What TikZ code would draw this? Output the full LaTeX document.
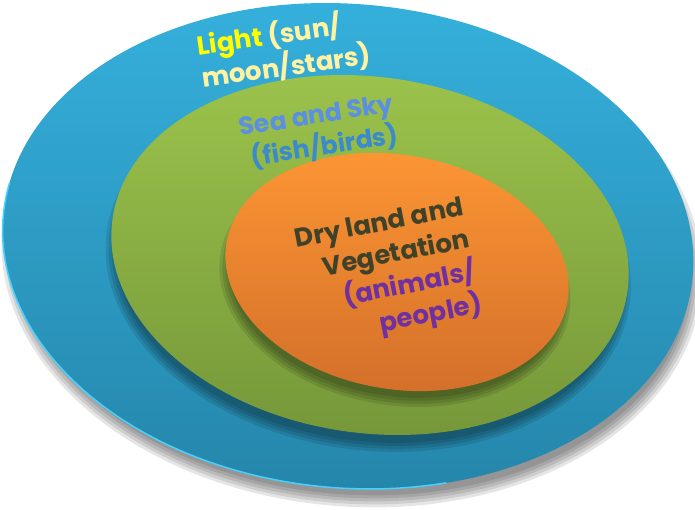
\documentclass[tikz,border=0pt]{standalone}
\usepackage{fontspec}
\setmainfont{Poppins}
\usetikzlibrary{positioning}

\definecolor{skytop}{HTML}{35B1DD}
\definecolor{skybot}{HTML}{2586AB}
\definecolor{skyrim}{HTML}{45D2FF}
\definecolor{seatop}{HTML}{9DC44C}
\definecolor{seabot}{HTML}{76983A}
\definecolor{landtop}{HTML}{FE9734}
\definecolor{landbot}{HTML}{D4702A}
\definecolor{lightyel}{HTML}{FFFF00}
\definecolor{paleyel}{HTML}{FFF3A3}
\definecolor{seablue}{HTML}{5A8FE2}
\definecolor{fishblue}{HTML}{3A8BCB}
\definecolor{landtxt}{HTML}{3F4128}
\definecolor{purp}{HTML}{7030A0}

\begin{document}
\begin{tikzpicture}[
    x=1pt, y=-1pt,
    castshadow/.style={fill=black, opacity=0.1},
    ringtext/.style={font=\bfseries\fontsize{26}{33}\selectfont, inner sep=0pt}
]
    \useasboundingbox (0,0) rectangle (695,509);

    % Centres of the rings
    \coordinate (sky) at (348,246);
    \coordinate (sea) at (370,255);
    \coordinate (land) at (397,272);

    % Outer ring: light
    \begin{scope}[shift={(sky)}, rotate=-5]
        \foreach \r in {0pt,3pt,6pt,9pt,12pt}
            \fill[castshadow] (5,13) ellipse [x radius=351pt-\r, y radius=247pt-\r];
        \shade[top color=skytop, bottom color=skybot] (0,0) ellipse [x radius=346pt, y radius=242pt];
        \draw[skyrim, line width=1.5pt] (172:346pt and 242pt) arc[start angle=172, end angle=290, x radius=346pt, y radius=242pt];
    \end{scope}

    % Middle ring: sea and sky
    \begin{scope}[shift={(sea)}, rotate=-8]
        \foreach \r in {0pt,3pt,6pt,9pt}
            \fill[castshadow] (0,13) ellipse [x radius=264pt-\r, y radius=182pt-\r];
        \shade[top color=seatop, bottom color=seabot] (0,0) ellipse [x radius=260pt, y radius=178pt];
    \end{scope}

    % Inner ring: dry land
    \begin{scope}[shift={(land)}, rotate=-10]
        \foreach \r in {0pt,3pt,6pt,9pt}
            \fill[castshadow] (0,12) ellipse [x radius=177pt-\r, y radius=121pt-\r];
        \shade[top color=landtop, bottom color=landbot] (0,0) ellipse [x radius=173pt, y radius=117pt];
    \end{scope}

    % Labels
    \node[ringtext, text=paleyel, rotate=8, align=left] (lighttxt) at (284,50)
        {\textcolor{lightyel}{Light} (sun/\\moon/stars)};
    \node[ringtext, font=\bfseries\fontsize{25}{32}\selectfont, rotate=9, align=right] (seatxt) at (319,133)
        {\textcolor{seablue}{Sea and Sky}\\\textcolor{fishblue}{(fish/birds)}};
    \node[ringtext, text=landtxt, rotate=11, align=right] (landtxt) at (389,274)
        {Dry land and\\Vegetation\\\textcolor{purp}{(animals/}\\\textcolor{purp}{people)}};
\end{tikzpicture}
\end{document}
